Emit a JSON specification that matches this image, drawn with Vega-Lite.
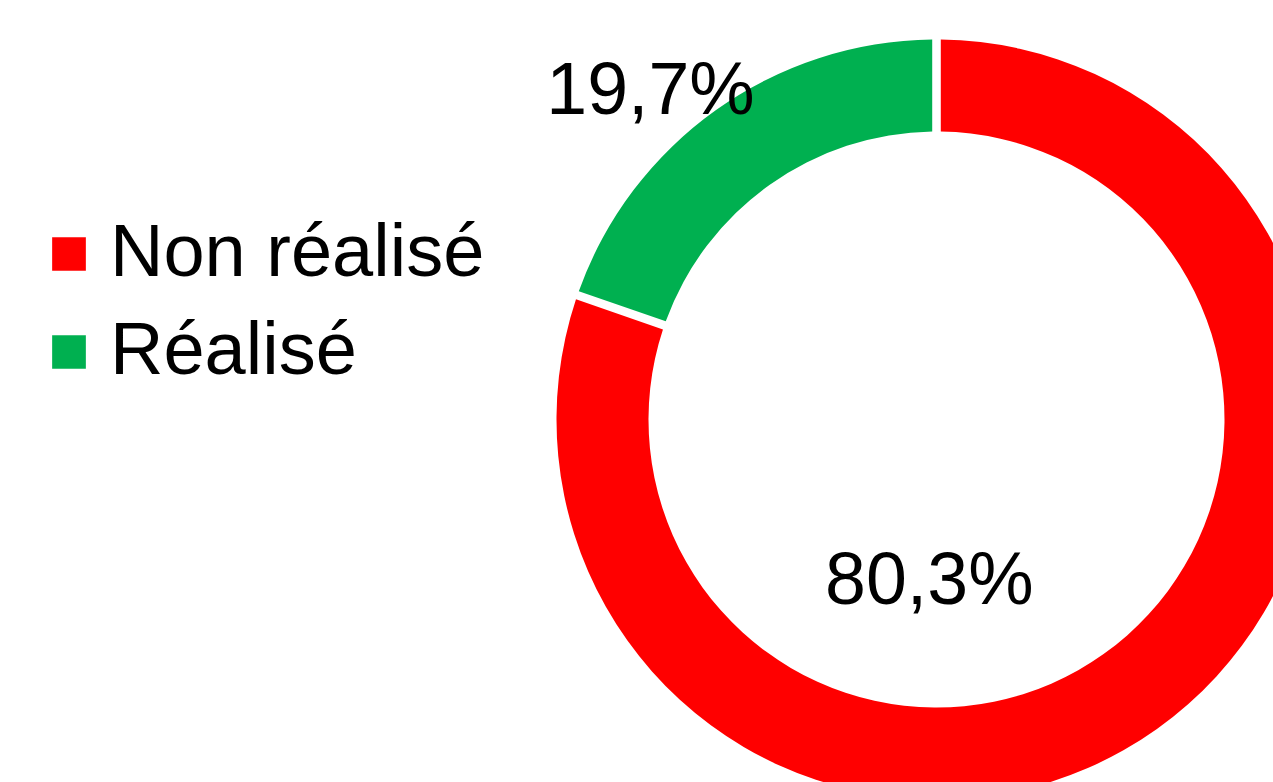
{
  "$schema": "https://vega.github.io/schema/vega-lite/v6.json",
  "width": 1873,
  "height": 839,
  "autosize": {"type": "none"},
  "padding": 0,
  "background": "white",
  "config": {"view": {"stroke": null}},
  "data": {"values": [
    {"statut": "Non réalisé", "part": 80.3, "etiquette": "80,3%", "ordre": 1},
    {"statut": "Réalisé", "part": 19.7, "etiquette": "19,7%", "ordre": 2}
  ]},
  "encoding": {
    "theta": {"field": "part", "type": "quantitative", "stack": true},
    "order": {"field": "ordre", "type": "ordinal"}
  },
  "layer": [
    {
      "mark": {"type": "arc", "outerRadius": 380, "innerRadius": 288, "padAngle": 0.018},
      "encoding": {
        "color": {
          "field": "statut",
          "type": "nominal",
          "scale": {"domain": ["Non réalisé", "Réalisé"], "range": ["#FF0000", "#00B050"]},
          "legend": {
            "orient": "none",
            "legendX": 32,
            "legendY": 217,
            "title": null,
            "symbolType": "square",
            "symbolSize": 1136,
            "symbolStrokeWidth": 0,
            "symbolOpacity": 1,
            "labelFontSize": 74,
            "labelFont": "Liberation Sans",
            "labelColor": "black",
            "labelOffset": 4,
            "rowPadding": 24,
            "padding": 0,
            "labelLimit": 1000
          }
        }
      }
    },
    {
      "mark": {"type": "text", "radius": 401.6, "dx": -53, "fontSize": 73.5, "font": "Liberation Sans", "color": "black"},
      "encoding": {
        "detail": {"field": "statut", "type": "nominal"},
        "text": {"condition": {"test": "datum.statut === 'Réalisé'", "field": "etiquette"}, "value": ""}
      }
    },
    {
      "mark": {"type": "text", "radius": 199.6, "dx": -123, "fontSize": 73.5, "font": "Liberation Sans", "color": "black"},
      "encoding": {
        "detail": {"field": "statut", "type": "nominal"},
        "text": {"condition": {"test": "datum.statut === 'Non réalisé'", "field": "etiquette"}, "value": ""}
      }
    }
  ]
}
